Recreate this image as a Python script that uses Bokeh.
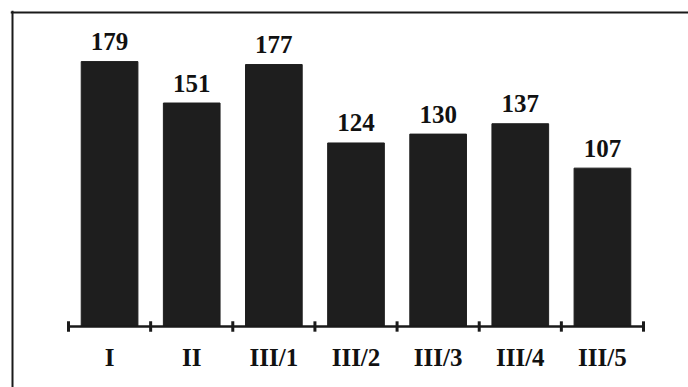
from bokeh.plotting import figure
from bokeh.models import Range1d, Span, ColumnDataSource
from bokeh.core.properties import value
from bokeh.embed import file_html
from bokeh.resources import INLINE

# ---- data ----
categories = ["I", "II", "III/1", "III/2", "III/3", "III/4", "III/5"]
counts = [179, 151, 177, 124, 130, 137, 107]

# ---- layout geometry (pixels) ----
W, H = 688, 387
FRAME_L, FRAME_T = 10, 10
AXIS_X0, AXIS_X1 = 68, 643      # pixel ends of category axis
BASE_Y = 326                    # pixel y of axis line
PX_PER_UNIT = 1.48
PX_PER_CAT = (AXIS_X1 - AXIS_X0) / len(categories)
FONT = value("'Liberation Serif', 'Times New Roman', serif")

x_start = (FRAME_L - AXIS_X0) / PX_PER_CAT
x_end = (W - AXIS_X0) / PX_PER_CAT
y_start = (BASE_Y - H) / PX_PER_UNIT
y_end = (BASE_Y - FRAME_T) / PX_PER_UNIT

n = len(categories)
centers = [i + 0.5 for i in range(n)]
src = ColumnDataSource(dict(x=centers, top=counts, cat=categories,
                            lab=[str(c) for c in counts], zero=[0] * n))

p = figure(width=W, height=H, x_range=Range1d(x_start, x_end),
           y_range=Range1d(y_start, y_end), output_backend="svg",
           toolbar_location=None, min_border_left=FRAME_L, min_border_top=FRAME_T,
           min_border_right=0, min_border_bottom=0)
p.axis.visible = False
p.grid.visible = False
p.outline_line_color = None
p.background_fill_color = "white"
p.border_fill_color = "white"

# border (top and left)
p.add_layout(Span(location=(BASE_Y - 12) / PX_PER_UNIT, dimension="width",
                  line_color="#1a1a1a", line_width=2))
p.add_layout(Span(location=(12 - AXIS_X0) / PX_PER_CAT, dimension="height",
                  line_color="#1a1a1a", line_width=2))

# bars
p.vbar(x="x", top="top", bottom=0, width=0.69, source=src,
       fill_color="#1e1e1e", line_color="#1e1e1e")

# axis line and ticks
p.segment(x0=[0], y0=[0], x1=[n], y1=[0], line_color="#1a1a1a", line_width=2.5)
ticks = list(range(n + 1))
p.segment(x0=ticks, y0=[-3.5] * (n + 1), x1=ticks, y1=[3.5] * (n + 1),
          line_color="#1a1a1a", line_width=3)

# value labels
p.text(x="x", y="top", text="lab", source=src, text_align="center",
       text_baseline="alphabetic", y_offset=-20,
       text_font=FONT, text_font_style="bold",
       text_font_size="25px", text_color="#111111")

# category labels
p.text(x="x", y="zero", text="cat", source=src, text_align="center",
       text_baseline="alphabetic", y_offset=31,
       text_font=FONT, text_font_style="bold",
       text_font_size="25px", text_color="#111111")

open("out.html", "w").write(file_html(p, INLINE))
